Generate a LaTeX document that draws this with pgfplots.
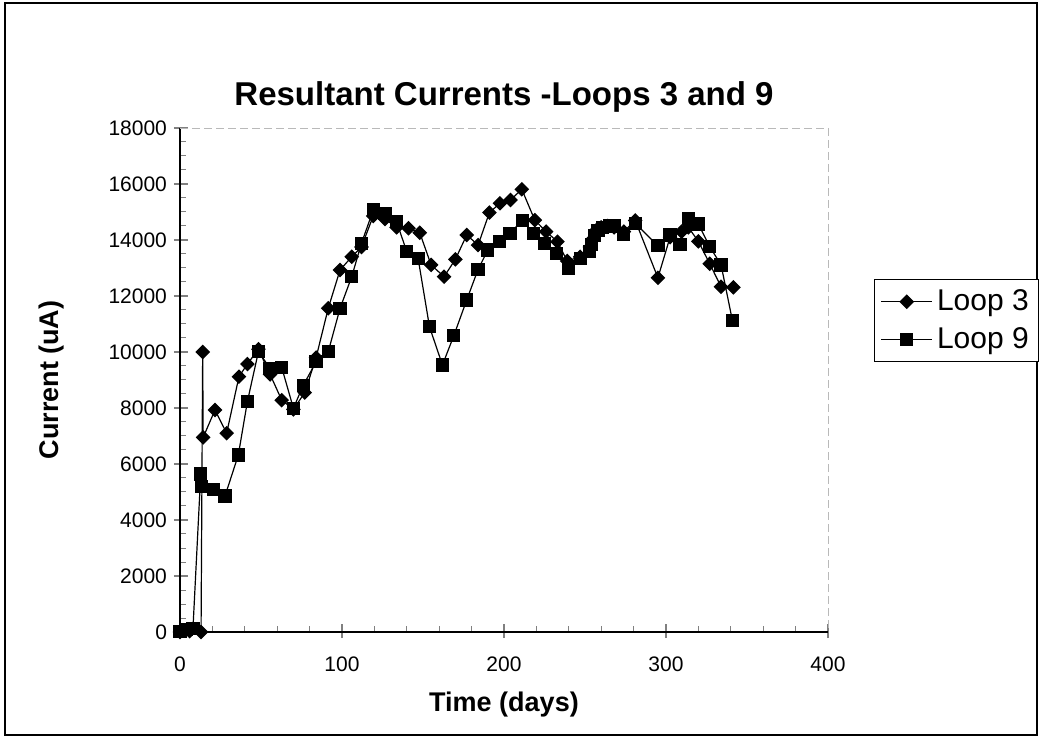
\documentclass[border=0pt]{standalone}
\usepackage{pgfplots}
\pgfplotsset{compat=1.18}
\usepackage{fontspec}
\setmainfont{Liberation Sans}
\begin{document}
\begin{tikzpicture}
\useasboundingbox (0,0) rectangle (521pt,369pt);
\draw[line width=0.6pt] (2.5pt,1.5pt) rectangle (518.5pt,367.5pt);
\begin{axis}[
  scale only axis, width=324pt, height=252pt,
  at={(90pt,53pt)}, anchor=south west,
  xmin=0, xmax=400, ymin=0, ymax=18000,
  axis x line*=bottom, axis y line*=left,
  axis line style={line width=0.7pt},
  xtick={0,100,200,300,400}, ytick={0,2000,...,18000},
  scaled y ticks=false, scaled x ticks=false,
  minor x tick num=4, minor y tick num=3,
  tick align=inside, major tick length=7pt, minor tick length=3pt,
  major x tick style={yshift=-3pt, line width=0.6pt},
  major y tick style={xshift=-3pt, line width=0.6pt},
  minor tick style={line width=0.5pt},
  /pgf/number format/1000 sep={},
  /pgf/number format/assume math mode=true,
  ticklabel style={font=\fontsize{10.5}{12.5}\selectfont},
  xticklabel style={yshift=-9pt},
  yticklabel style={xshift=-3pt},
  title={Resultant Currents -Loops 3 and 9},
  title style={font=\fontsize{16.5}{19}\selectfont\bfseries, at={(axis description cs:0.5,1.038)}, anchor=center},
  xlabel={Time (days)},
  xlabel style={font=\fontsize{13.5}{16}\selectfont\bfseries, at={(axis description cs:0.5,-0.1448)}, anchor=center},
  ylabel={Current (uA)},
  ylabel style={font=\fontsize{13.5}{16}\selectfont\bfseries, at={(axis description cs:-0.199,0.5)}, anchor=center, rotate=0},
  legend style={at={(1.071,0.70)}, anchor=north west, draw=black, line width=0.6pt,
    font=\fontsize{15}{17}\selectfont, row sep=3pt, inner sep=3pt,
    cells={anchor=west}},
  legend image code/.code={\draw[mark repeat=2,mark phase=2] plot coordinates {(0cm,0cm) (0.45cm,0cm) (0.9cm,0cm)};},
  clip=false,
]
\draw[gray!55, dash pattern=on 4pt off 2pt, line width=0.4pt] (axis cs:0,18000) -- (axis cs:400,18000) -- (axis cs:400,0);
\addplot[black, line width=0.6pt, mark=square*, mark size=2.3pt, mark options={rotate=45, solid}] coordinates {
(0,0) (6,30) (13,0) (14,10000) (14.3,6950) (21.6,7930) (28.8,7100) (36.4,9120) (41.6,9570) (48.4,10100)
(55.6,9200) (62.8,8280) (70,7950) (77,8550) (84,9800) (91.5,11560) (98.8,12930) (106,13400) (112,13750)
(119.3,14860) (126.5,14750) (133.7,14450) (141,14420) (148,14260) (155,13110) (163,12690) (170,13310)
(177,14180) (184,13820) (191,14980) (197.5,15310) (204,15430) (211,15810) (219,14710) (226,14300)
(233,13940) (239,13250) (247,13400) (253,13750) (255,14050) (257,14350) (260,14450) (264,14500)
(268,14450) (274,14300) (281,14700) (295,12650) (302.5,14100) (309.6,14300) (313.8,14450) (320,13950)
(327,13150) (334,12330) (341.6,12310)
};
\addlegendentry{Loop 3}
\addplot[black, line width=0.6pt, mark=square*, mark size=3pt, mark options={solid}] coordinates {
(0,30) (4,80) (8,120) (12.8,5640) (13.4,5190) (20.6,5100) (27.8,4860) (36,6320) (41.6,8230) (48.4,10010)
(55.6,9420) (62.8,9450) (70,7990) (76,8800) (84,9650) (91.5,10010) (98.8,11560) (106,12690) (112,13880)
(119.3,15070) (126.5,14950) (133.7,14650) (140,13580) (147,13340) (154,10900) (162,9535) (169,10580)
(177,11860) (184,12950) (190,13640) (197,13940) (203.7,14240) (211.5,14710) (218,14240) (225,13880)
(232.5,13520) (240,12990) (247,13340) (253,13600) (254,13850) (256,14150) (258,14350) (261,14450)
(265,14500) (268,14500) (274,14200) (281,14600) (295,13790) (302.5,14180) (308.6,13850) (313.8,14760)
(320,14570) (327,13760) (334,13110) (341,11120)
};
\addlegendentry{Loop 9}
\end{axis}
\end{tikzpicture}
\end{document}
